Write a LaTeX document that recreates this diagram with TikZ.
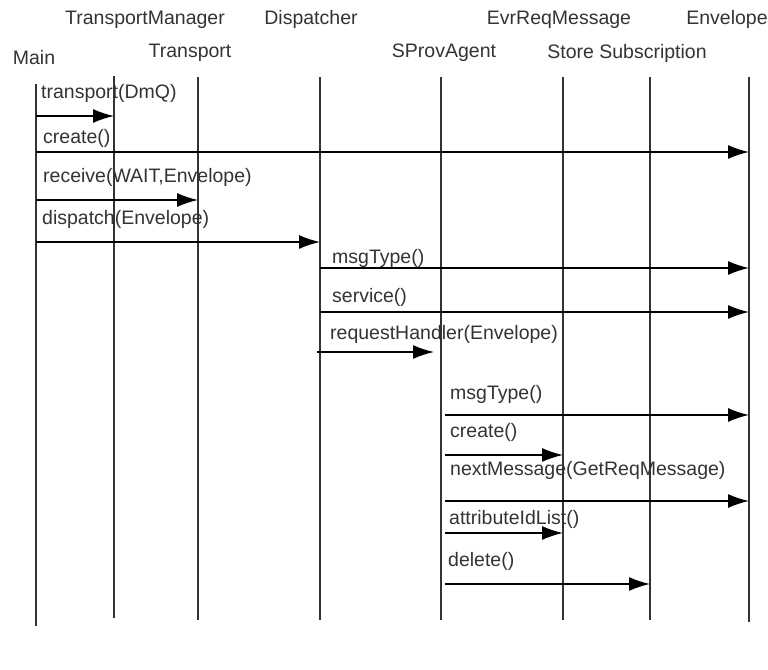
\documentclass[tikz,border=0pt]{standalone}
\usepackage{fontspec}
\setmainfont{Liberation Sans}
\usepackage{tikz}
\usetikzlibrary{arrows.meta}

\begin{document}
\begin{tikzpicture}[x=1pt,y=-1pt,>={Latex[length=21pt,width=14pt]},
  font=\fontsize{19.5}{22}\selectfont,
  head/.style={inner sep=0pt,text=black!80},
  lbl/.style={anchor=west,inner sep=0pt,text=black!80},
  life/.style={draw=black!80,line width=1.5pt},
  msg/.style={->,line width=1.5pt}]
  \useasboundingbox (0,0) rectangle (768,669);
  % object names, two rows
  \node[head] (mainL) at (34,58) {Main};
  \node[head] (tmL) at (145,19.5) {TransportManager};
  \node[head] (trL) at (190,53) {Transport};
  \node[head] (dispL) at (311,19.5) {Dispatcher};
  \node[head] (spL) at (444,53) {SProvAgent};
  \node[head] (evrL) at (559,19.5) {EvrReqMessage};
  \node[head] (ssL) at (627,53) {Store Subscription};
  \node[head] (envL) at (727,19.5) {Envelope};
  % lifelines
  \coordinate (main) at (36,84);   \coordinate (main end) at (36,626);
  \coordinate (tm) at (114,76);    \coordinate (tm end) at (114,618);
  \coordinate (tr) at (198,77);    \coordinate (tr end) at (198,620);
  \coordinate (disp) at (320,77);  \coordinate (disp end) at (320,620);
  \coordinate (sp) at (441,77);    \coordinate (sp end) at (441,620);
  \coordinate (evr) at (563,77);   \coordinate (evr end) at (563,620);
  \coordinate (ss) at (650,77);    \coordinate (ss end) at (650,620);
  \coordinate (env) at (749,77);   \coordinate (env end) at (749,622);
  \draw[life] (main) -- (main end);
  \draw[life] (tm) -- (tm end);
  \draw[life] (tr) -- (tr end);
  \draw[life] (disp) -- (disp end);
  \draw[life] (sp) -- (sp end);
  \draw[life] (evr) -- (evr end);
  \draw[life] (ss) -- (ss end);
  \draw[life] (env) -- (env end);
  % message rows
  \coordinate (r1) at (0,116);  \coordinate (r2) at (0,152);
  \coordinate (r3) at (0,200);  \coordinate (r4) at (0,242);
  \coordinate (r5) at (0,268);  \coordinate (r6) at (0,312);
  \coordinate (r7) at (0,352);  \coordinate (r8) at (0,415);
  \coordinate (r9) at (0,455);  \coordinate (r10) at (0,501);
  \coordinate (r11) at (0,533); \coordinate (r12) at (0,584);
  % calls from Main
  \node[lbl] (m1) at (41,93) {transport(DmQ)};
  \draw[msg] (main |- r1) -- (tm |- r1);
  \node[lbl] (m2) at (43,138) {create()};
  \draw[msg] (main |- r2) -- (env |- r2);
  \node[lbl] (m3) at (43,177) {receive(WAIT,Envelope)};
  \draw[msg] (main |- r3) -- (tr |- r3);
  \node[lbl] (m4) at (42,219) {dispatch(Envelope)};
  \draw[msg] (main |- r4) -- (disp |- r4);
  % calls from Dispatcher
  \node[lbl] (m5) at (332,258) {msgType()};
  \draw[msg] (disp |- r5) -- (env |- r5);
  \node[lbl] (m6) at (332,297) {service()};
  \draw[msg] (disp |- r6) -- (env |- r6);
  \node[lbl] (m7) at (330,334) {requestHandler(Envelope)};
  \draw[msg] ([xshift=-3pt]disp |- r7) -- ([xshift=-7pt]sp |- r7);
  % calls from SProvAgent
  \node[lbl] (m8) at (450,394) {msgType()};
  \draw[msg] ([xshift=4pt]sp |- r8) -- (env |- r8);
  \node[lbl] (m9) at (450,432) {create()};
  \draw[msg] ([xshift=4pt]sp |- r9) -- (evr |- r9);
  \node[lbl] (m10) at (450,470) {nextMessage(GetReqMessage)};
  \draw[msg] ([xshift=4pt]sp |- r10) -- (env |- r10);
  \node[lbl] (m11) at (449,519) {attributeIdList()};
  \draw[msg] ([xshift=4pt]sp |- r11) -- (evr |- r11);
  \node[lbl] (m12) at (448,561) {delete()};
  \draw[msg] ([xshift=4pt]sp |- r12) -- (ss |- r12);
\end{tikzpicture}
\end{document}
